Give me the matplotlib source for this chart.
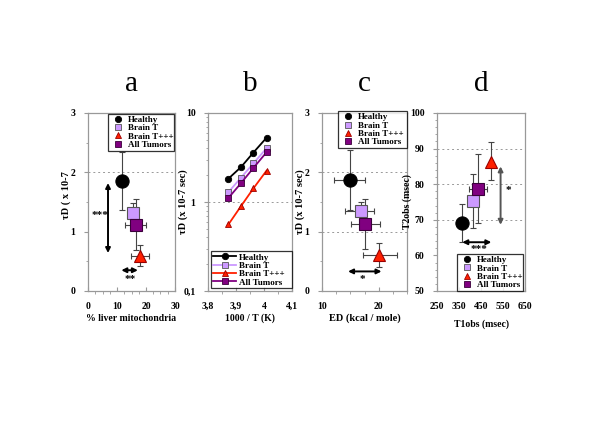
import matplotlib
matplotlib.use("Agg")
import matplotlib.pyplot as plt
from matplotlib.ticker import AutoMinorLocator, FixedLocator, LogLocator, NullFormatter
from matplotlib.lines import Line2D

plt.rcParams['font.family'] = ['Liberation Serif', 'DejaVu Serif']
plt.rcParams['font.weight'] = 'bold'

groups = ["Healthy", "Brain T", "Brain T+++", "All Tumors"]

# Panel a: tau_D vs % liver mitochondria
a_x = [11.7, 15.5, 17.8, 16.4]
a_y = [1.86, 1.32, 0.59, 1.12]
a_xerr_lo = [0.0, 1.2, 3.0, 3.5]
a_xerr_hi = [0.0, 1.2, 3.1, 3.5]
a_yerr_lo = [0.49, 0.0, 0.17, 0.43]
a_yerr_hi = [0.49, 0.17, 0.18, 0.43]

# Panel b: tau_D vs 1000/T (log scale)
b_x = [3.873, 3.918, 3.962, 4.009]
b_healthy = [1.83, 2.47, 3.59, 5.27]
b_braint = [1.29, 1.88, 2.71, 4.02]
b_braintppp = [0.56, 0.90, 1.42, 2.25]
b_alltumors = [1.11, 1.63, 2.41, 3.62]

# Panel c: tau_D vs E_D
c_x = [14.9, 16.8, 20.0, 17.6]
c_y = [1.87, 1.34, 0.60, 1.13]
c_xerr_lo = [2.8, 2.7, 2.8, 2.5]
c_xerr_hi = [2.7, 2.3, 3.2, 2.6]
c_yerr_lo = [0.51, 0.0, 0.19, 0.43]
c_yerr_hi = [0.50, 0.16, 0.21, 0.42]

# Panel d: T2obs vs T1obs
d_x = [365, 415, 495, 438]
d_y = [69.1, 75.3, 86.2, 78.7]
d_xerr_lo = [0, 0, 0, 43]
d_xerr_hi = [0, 0, 0, 39]
d_yerr_lo = [5.4, 7.6, 5.1, 9.5]
d_yerr_hi = [5.4, 7.7, 5.7, 9.7]

colors = ['black', '#CC99FF', '#FF2000', '#800080']
edges = ['black', '#555555', '#990000', '#3a003a']
markers = ['o', 's', '^', 's']
big_sizes = [9.5, 8.5, 9.0, 8.0]

W, H = 600, 424
fig = plt.figure(figsize=(6.0, 4.24), dpi=100)

def rect(x0, x1, y0=113, y1=291):
    return [x0 / W, (H - y1) / H, (x1 - x0) / W, (y1 - y0) / H]

ax_a = fig.add_axes(rect(88, 175))
ax_b = fig.add_axes(rect(208, 292))
ax_c = fig.add_axes(rect(322, 407))
ax_d = fig.add_axes(rect(437, 525))

spine_col = '#999999'

def style(ax):
    for s in ax.spines.values():
        s.set_color(spine_col)
        s.set_linewidth(0.9)
    ax.tick_params(axis='x', direction='in', length=3, color=spine_col, labelsize=7, pad=8)
    ax.tick_params(axis='y', direction='out', length=3, color=spine_col, labelsize=7, pad=6)
    ax.tick_params(which='minor', length=1.8, color=spine_col)
    for lab in ax.get_xticklabels() + ax.get_yticklabels():
        lab.set_fontweight('bold')

def hgrid(ax, ys):
    for y in ys:
        ax.axhline(y, color='#999999', lw=0.7, linestyle=(0, (2, 3)), zorder=0)

def scatter_err(ax, xs, ys, xlo, xhi, ylo, yhi):
    for i in range(4):
        ax.errorbar([xs[i]], [ys[i]], xerr=[[xlo[i]], [xhi[i]]], yerr=[[ylo[i]], [yhi[i]]],
                    fmt='none', ecolor='#444444', elinewidth=0.8, capsize=2, capthick=0.8, zorder=2)
    for i in range(4):
        ax.plot([xs[i]], [ys[i]], marker=markers[i], color=colors[i], markeredgecolor=edges[i],
                markersize=big_sizes[i], markeredgewidth=0.8, linestyle='none', zorder=3)

def finish_legend(leg):
    leg.get_frame().set_edgecolor('black')
    leg.get_frame().set_linewidth(0.9)
    return leg

def marker_legend(ax, loc, bbox):
    handles = [Line2D([], [], marker=markers[i], color=colors[i], markeredgecolor=edges[i],
                      markersize=4.5, linestyle='none', markeredgewidth=0.6) for i in range(4)]
    leg = ax.legend(handles, groups, loc=loc, bbox_to_anchor=bbox, mode='expand',
                    frameon=True, fancybox=False,
                    prop=dict(size=6.5, weight='bold'), handlelength=1.8, handletextpad=0.2,
                    labelspacing=0.0, borderpad=0.2, borderaxespad=0)
    return finish_legend(leg)

def dbl_arrow(ax, p1, p2, color='black'):
    ax.annotate('', xy=p1, xytext=p2,
                arrowprops=dict(arrowstyle='<|-|>', color=color, lw=1.4, mutation_scale=7,
                                shrinkA=0, shrinkB=0), zorder=4)

# ---------- Panel a ----------
ax = ax_a
hgrid(ax, [2])
scatter_err(ax, a_x, a_y, a_xerr_lo, a_xerr_hi, a_yerr_lo, a_yerr_hi)
ax.set_xlim(0, 30)
ax.set_ylim(0, 3)
ax.set_xticks([0, 10, 20, 30])
ax.set_yticks([0, 1, 2, 3])
ax.xaxis.set_minor_locator(AutoMinorLocator(4))
ax.yaxis.set_minor_locator(AutoMinorLocator(2))
style(ax)
dbl_arrow(ax, (6.9, 1.82), (6.9, 0.64))
ax.text(4.0, 1.28, '***', fontsize=8, ha='center', va='center')
dbl_arrow(ax, (11.5, 0.35), (17.2, 0.35))
ax.text(14.6, 0.20, '**', fontsize=8, ha='center', va='center')
marker_legend(ax, 'upper left', (0.23, 0.995, 0.76, 0))
ax.set_xlabel('% liver mitochondria', fontsize=7, fontweight='bold', labelpad=2)
ax.set_ylabel('τD ( x 10-7', fontsize=7.5, fontweight='bold', labelpad=2)
ax.yaxis.set_label_coords(-0.2, 0.54)
ax.set_title('a', fontsize=21, fontweight='normal', pad=16)

# ---------- Panel b ----------
ax = ax_b
ax.set_yscale('log')
hgrid(ax, [1])
series_b = [b_healthy, b_braint, b_braintppp, b_alltumors]
line_cols = ['black', '#CC99FF', '#FF2000', '#800080']
for i in range(4):
    ax.plot(b_x, series_b[i], color=line_cols[i], lw=1.3, marker=markers[i],
            markerfacecolor=colors[i], markeredgecolor=edges[i], markersize=4.6,
            markeredgewidth=0.6, label=groups[i], zorder=3)
ax.set_xlim(3.8, 4.1)
ax.set_ylim(0.1, 10)
ax.xaxis.set_major_locator(FixedLocator([3.8, 3.9, 4.0, 4.1]))
ax.set_xticklabels(['3,8', '3,9', '4', '4,1'])
ax.yaxis.set_major_locator(FixedLocator([0.1, 1, 10]))
ax.set_yticklabels(['0,1', '1', '10'])
ax.yaxis.set_minor_locator(LogLocator(base=10, subs=[2, 3, 4, 5, 6, 7, 8, 9]))
ax.yaxis.set_minor_formatter(NullFormatter())
ax.xaxis.set_minor_locator(AutoMinorLocator(2))
style(ax)
leg = ax.legend(loc='lower left', bbox_to_anchor=(0.036, 0.015, 0.964, 0), mode='expand',
                frameon=True, fancybox=False,
                prop=dict(size=6.5, weight='bold'), handlelength=2.6, handletextpad=0.3,
                labelspacing=0.0, borderpad=0.2, borderaxespad=0)
finish_legend(leg)
ax.set_xlabel('1000 / T (K)', fontsize=7, fontweight='bold', labelpad=2)
ax.set_ylabel('τD (x 10-7 sec)', fontsize=7.5, fontweight='bold', labelpad=2)
ax.yaxis.set_label_coords(-0.24, 0.5)
ax.set_title('b', fontsize=21, fontweight='normal', pad=16)

# ---------- Panel c ----------
ax = ax_c
hgrid(ax, [1, 2])
scatter_err(ax, c_x, c_y, c_xerr_lo, c_xerr_hi, c_yerr_lo, c_yerr_hi)
ax.set_xlim(10, 25)
ax.set_ylim(0, 3)
ax.set_xticks([10, 20])
ax.set_yticks([0, 1, 2, 3])
ax.xaxis.set_minor_locator(AutoMinorLocator(4))
ax.yaxis.set_minor_locator(AutoMinorLocator(2))
style(ax)
dbl_arrow(ax, (14.6, 0.33), (20.5, 0.33))
ax.text(17.2, 0.20, '*', fontsize=8, ha='center', va='center')
marker_legend(ax, 'upper left', (0.19, 1.01, 0.81, 0))
ax.set_xlabel('ED (kcal / mole)', fontsize=7.5, fontweight='bold', labelpad=2)
ax.set_ylabel('τD (x 10-7 sec)', fontsize=7.5, fontweight='bold', labelpad=2)
ax.yaxis.set_label_coords(-0.2, 0.5)
ax.set_title('c', fontsize=21, fontweight='normal', pad=16)

# ---------- Panel d ----------
ax = ax_d
hgrid(ax, [70, 80, 90])
scatter_err(ax, d_x, d_y, d_xerr_lo, d_xerr_hi, d_yerr_lo, d_yerr_hi)
ax.set_xlim(250, 650)
ax.set_ylim(50, 100)
ax.set_xticks([250, 350, 450, 550, 650])
ax.set_yticks([50, 60, 70, 80, 90, 100])
ax.yaxis.set_minor_locator(AutoMinorLocator(5))
style(ax)
dbl_arrow(ax, (539, 85.0), (539, 68.6), color='#555555')
ax.text(573, 78.3, '*', fontsize=8, ha='center', va='center')
dbl_arrow(ax, (365, 63.7), (497, 63.7))
ax.text(441, 61.6, '***', fontsize=8, ha='center', va='center')
marker_legend(ax, 'lower left', (0.227, 0.0, 0.75, 0))
ax.set_xlabel('T1obs (msec)', fontsize=7, fontweight='bold', labelpad=6)
ax.set_ylabel('T2obs (msec)', fontsize=7, fontweight='bold', labelpad=2)
ax.yaxis.set_label_coords(-0.28, 0.5)
ax.set_title('d', fontsize=21, fontweight='normal', pad=16)

fig.savefig('out.png', dpi=100)
